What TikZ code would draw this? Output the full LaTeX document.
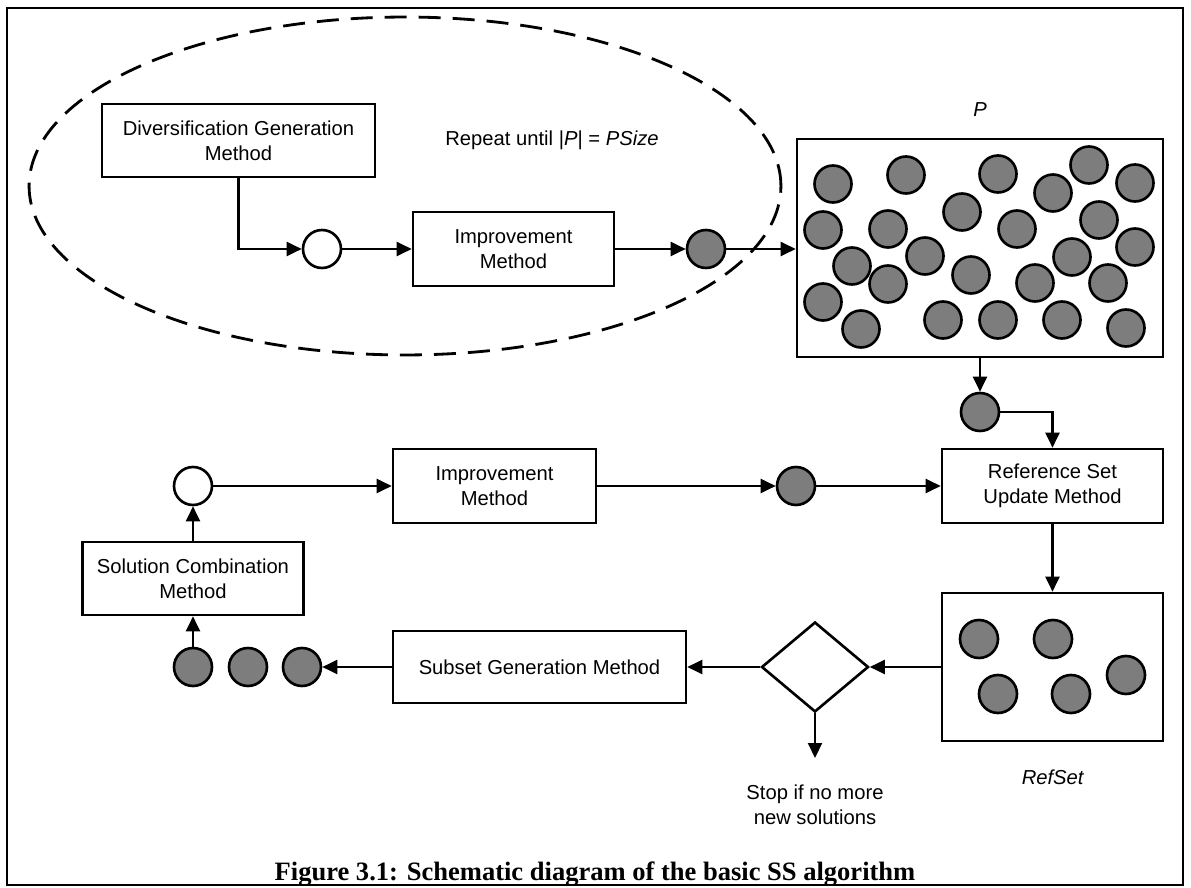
\documentclass[tikz,border=0pt]{standalone}
\usepackage{fontspec}
\setmainfont{Liberation Sans}
\newfontfamily\capfont{Liberation Serif}
\usetikzlibrary{arrows.meta,shapes.geometric}
\definecolor{solgray}{RGB}{125,125,125}
\begin{document}
\begin{tikzpicture}[x=0.02cm,y=-0.02cm,
  box/.style={draw, line width=1.5pt, fill=white, align=center, inner sep=0pt, font=\fontsize{11.5}{14.2}\selectfont},
  setbox/.style={draw, line width=1.5pt, inner sep=0pt},
  sol/.style={circle, draw, line width=1.5pt, fill=solgray, minimum size=0.76cm, inner sep=0pt},
  emptysol/.style={circle, draw, line width=1.5pt, fill=white, minimum size=0.76cm, inner sep=0pt},
  conn/.style={line width=1.2pt, -{Triangle[length=0.3cm,width=0.28cm]}},
  lbl/.style={font=\fontsize{11.5}{14.2}\selectfont, align=center, inner sep=0pt}]

\useasboundingbox (0,0) rectangle (1191,888);
\draw[line width=1.3pt] (7,8) rectangle (1183,885);
\draw[dash pattern=on 0.44cm off 0.24cm, line width=1.6pt] (405,186) ellipse [x radius=7.52cm, y radius=3.38cm];

% top row
\node[box, minimum width=5.46cm, minimum height=1.46cm] (div) at (238.5,140.5) {Diversification Generation\\Method};
\node[lbl] (rep) at (552,140) {Repeat until |\textit{P}| = \textit{PSize}};
\node[emptysol] (w1) at (322,249) {};
\node[box, minimum width=4.02cm, minimum height=1.48cm] (imp1) at (513.5,249) {Improvement\\Method};
\node[sol] (d1) at (706,249) {};
\node[setbox, minimum width=7.32cm, minimum height=4.36cm] (P) at (980,248) {};
\node[lbl] (Plbl) at (980,110) {\textit{P}};
\foreach \x/\y [count=\i] in {833/184, 906/175, 998/174, 1089/165, 1053/193, 1135/183,
  962/212, 823/230, 888/229, 1017/229, 1099/220, 852/266, 925/256, 971/275, 1072/257,
  1135/247, 888/284, 1035/283, 1108/283, 823/302, 861/329, 943/320, 998/320, 1062/320, 1126/328}
  \node[sol, minimum size=0.74cm] (p\i) at (\x,\y) {};

% right column
\node[sol] (d2) at (980,412) {};
\node[box, minimum width=4.42cm, minimum height=1.48cm] (ref) at (1052.5,486) {Reference Set\\Update Method};
\node[setbox, minimum width=4.42cm, minimum height=2.96cm] (rs) at (1052.5,667) {};
\foreach \x/\y [count=\i] in {979/639, 1053/639, 1126/675, 998/694, 1071/694}
  \node[sol] (r\i) at (\x,\y) {};
\node[lbl] (rslbl) at (1053,777) {\textit{RefSet}};

% bottom row
\node[diamond, draw, line width=1.5pt, minimum width=2.14cm, minimum height=1.8cm, inner sep=0pt] (dia) at (815,667) {};
\coordinate (stop) at (815,758);
\node[lbl] (stoplbl) at (815,805) {Stop if no more\\new solutions};
\node[box, minimum width=5.86cm, minimum height=1.44cm] (sub) at (539.5,667) {Subset Generation Method};
\node[sol] (c3) at (302,667) {};
\node[sol] (c2) at (248,667) {};
\node[sol] (c1) at (193,667) {};

% middle row
\node[box, minimum width=4.42cm, minimum height=1.46cm] (sc) at (193,578.5) {Solution Combination\\Method};
\node[emptysol] (w2) at (193,486) {};
\node[box, minimum width=4.06cm, minimum height=1.48cm] (imp2) at (494.5,486) {Improvement\\Method};
\node[sol] (d3) at (796,486) {};

% caption
\node[font=\capfont\bfseries\fontsize{15.1}{18}\selectfont, anchor=base, inner sep=0pt] (cap) at (595,880) {Figure 3.1: Schematic diagram of the basic SS algorithm};

% connectors
\draw[conn] (div.south) |- (w1.west);
\draw[conn] (w1) -- (imp1);
\draw[conn] (imp1) -- (d1);
\draw[conn] (d1) -- (d1 -| P.west);
\draw[conn] (P) -- (d2);
\draw[conn] (d2.east) -| (ref.north);
\draw[conn] (ref) -- (rs);
\draw[conn] (rs) -- (dia);
\draw[conn] (dia) -- (sub);
\draw[conn] (sub) -- (c3);
\draw[conn] (c1) -- (sc);
\draw[conn] (sc) -- (w2);
\draw[conn] (w2) -- (imp2);
\draw[conn] (imp2) -- (d3);
\draw[conn] (d3) -- (ref);
\draw[conn] (dia) -- (stop);
\end{tikzpicture}
\end{document}
